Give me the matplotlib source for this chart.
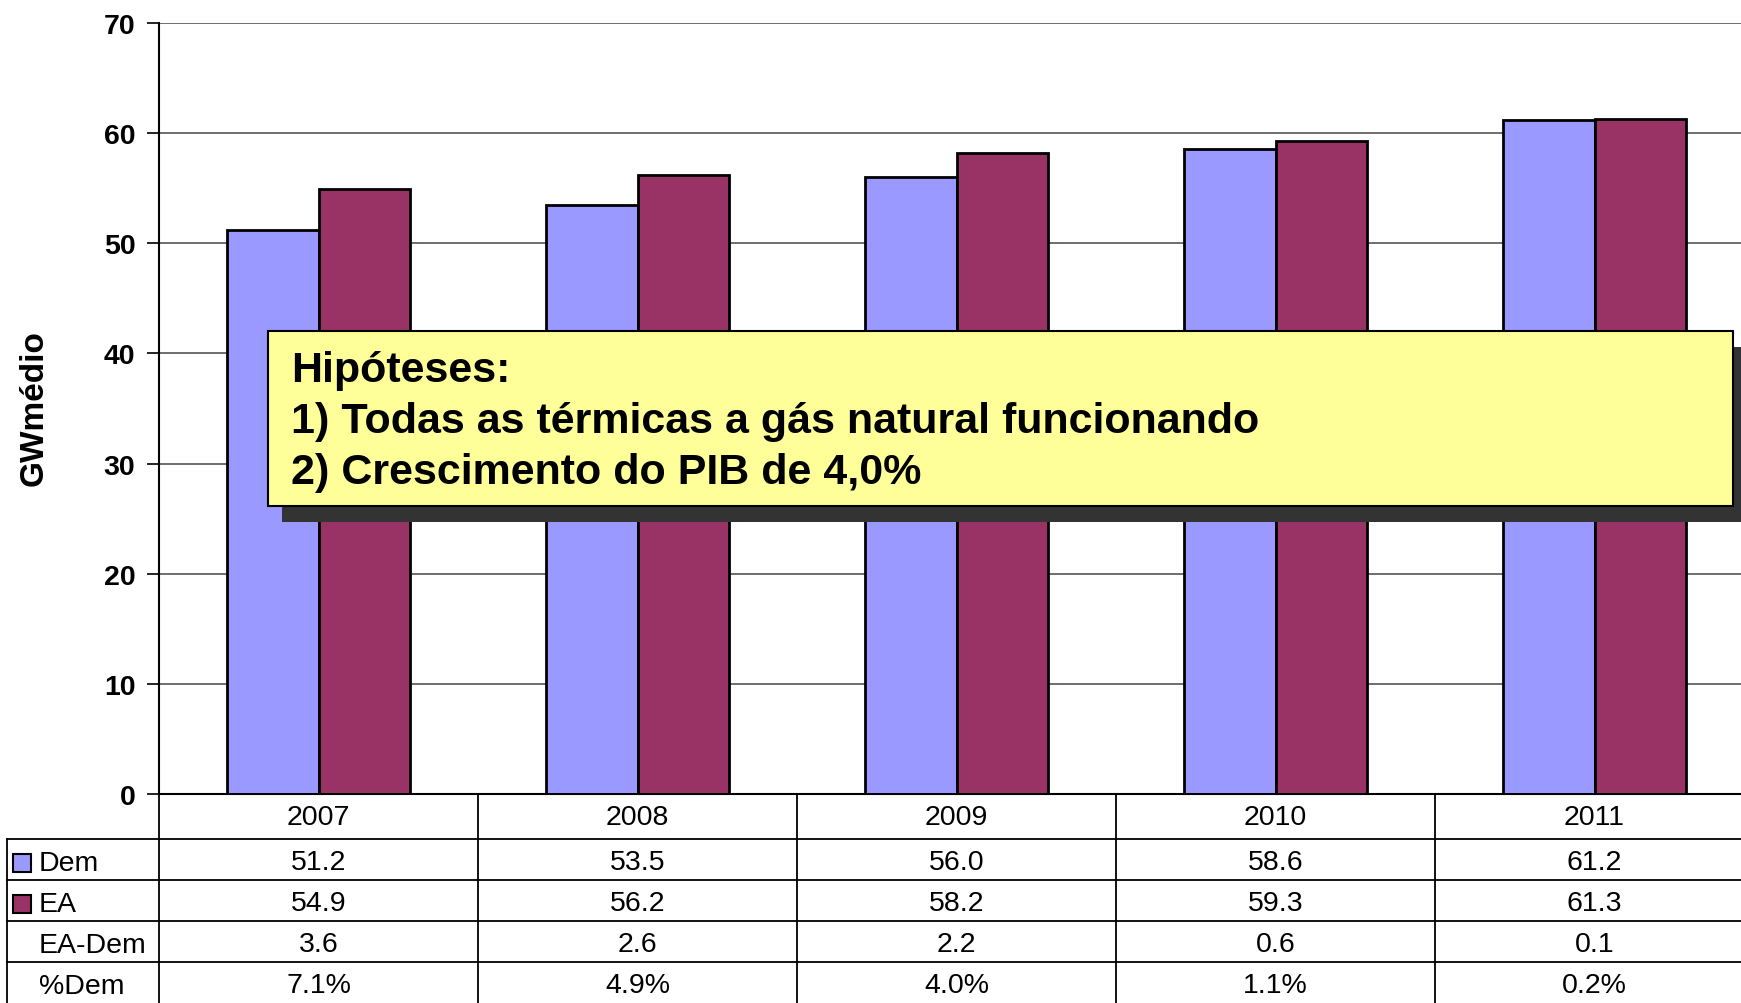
import matplotlib
matplotlib.use("Agg")
import matplotlib.pyplot as plt
from matplotlib.patches import Rectangle
from matplotlib.transforms import blended_transform_factory

years = ["2007", "2008", "2009", "2010", "2011"]
dem = [51.2, 53.5, 56.0, 58.6, 61.2]
ea = [54.9, 56.2, 58.2, 59.3, 61.3]
ea_dem = ["3.6", "2.6", "2.2", "0.6", "0.1"]
pct_dem = ["7.1%", "4.9%", "4.0%", "1.1%", "0.2%"]
row_labels = ["Dem", "EA", "EA-Dem", "%Dem"]
yticks = [0, 10, 20, 30, 40, 50, 60, 70]
note_lines = ["Hipóteses:",
              "1) Todas as térmicas a gás natural funcionando",
              "2) Crescimento do PIB de 4,0%"]

DEM_C = "#9999FF"
EA_C = "#993366"

W, H = 1741, 1004
plt.rcParams["font.family"] = ["Liberation Sans", "DejaVu Sans"]
fig = plt.figure(figsize=(W / 100, H / 100), dpi=100)

def fx(px):
    return px / W

def fy(py):
    return 1 - py / H

ax_left, ax_top, ax_bot = 159, 24, 795
cell_w = 319
ax = fig.add_axes([fx(ax_left), fy(ax_bot), 1 - fx(ax_left), fy(ax_top) - fy(ax_bot)])
ax.set_xlim(-0.5, -0.5 + (W - ax_left) / cell_w)
ax.set_ylim(0, 70)

bw = 0.287
xs = list(range(len(years)))
ax.bar([x - bw / 2 for x in xs], dem, width=bw, color=DEM_C, edgecolor="black", linewidth=2, zorder=3)
ax.bar([x + bw / 2 for x in xs], ea, width=bw, color=EA_C, edgecolor="black", linewidth=2, zorder=3)

ax.set_yticks(yticks)
ax.set_yticklabels([str(t) for t in yticks], fontsize=20.5, fontweight="bold")
ax.yaxis.grid(True, color="#555555", linewidth=1.2, zorder=0)
ax.set_axisbelow(True)
ax.tick_params(axis="y", direction="out", length=9, width=1.2, pad=8)
ax.set_xticks([])
for s in ["top", "right"]:
    ax.spines[s].set_visible(False)
ax.spines["left"].set_linewidth(1.5)
ax.spines["bottom"].set_linewidth(1.5)

fig.text(fx(34), fy(408), "GWmédio", rotation=90, fontsize=24, fontweight="bold",
         ha="center", va="center")

# ---- data table ----
tr = blended_transform_factory(ax.transData, fig.transFigure)
row_edges = [795, 840, 881, 922, 963, 1004]
lc = "black"
for i, y in enumerate(row_edges[:-1]):
    x0 = ax_left if i == 0 else 7
    fig.add_artist(plt.Line2D([fx(x0), 1], [fy(y), fy(y)], color=lc, linewidth=1.3))
fig.add_artist(plt.Line2D([fx(7), fx(7)], [fy(840), 0], color=lc, linewidth=1.3))
for k in range(len(years) + 1):
    xd = k - 0.5
    fig.add_artist(plt.Line2D([xd, xd], [fy(795), 0], color=lc, linewidth=1.3, transform=tr))

row_centers = [818, 863, 904, 945, 986]
rows = [years, [f"{v:.1f}" for v in dem], [f"{v:.1f}" for v in ea], ea_dem, pct_dem]
for r, vals in enumerate(rows):
    for x, v in zip(xs, vals):
        fig.text(x, fy(row_centers[r]), v, transform=tr, ha="center", va="center", fontsize=20.5)

for r, lab in enumerate(row_labels):
    fig.text(fx(39), fy(row_centers[r + 1] + 1), lab, ha="left", va="center", fontsize=20.5)
for r, col in enumerate([DEM_C, EA_C]):
    yc = row_centers[r + 1] + 1
    fig.add_artist(Rectangle((fx(13), fy(yc + 9)), fx(18), fy(yc - 9) - fy(yc + 9),
                             facecolor=col, edgecolor="black", linewidth=1.5,
                             transform=fig.transFigure))

# ---- annotation box with shadow ----
bx0, by0, bx1, by1 = 268, 332, 1733, 507
sdx, sdy = 14, 16
fig.add_artist(Rectangle((fx(bx0 + sdx), fy(by1 + sdy)), fx(bx1 - bx0), fy(by0) - fy(by1),
                         facecolor="#333333", edgecolor="none", transform=fig.transFigure, zorder=5))
fig.add_artist(Rectangle((fx(bx0), fy(by1)), fx(bx1 - bx0), fy(by0) - fy(by1),
                         facecolor="#FFFF99", edgecolor="black", linewidth=1.5,
                         transform=fig.transFigure, zorder=6))
for i, line in enumerate(note_lines):
    fig.text(fx(291), fy(371 + 51 * i), line, fontsize=31, fontweight="bold",
             ha="left", va="center", zorder=7)

fig.savefig("out.png", dpi=100)
